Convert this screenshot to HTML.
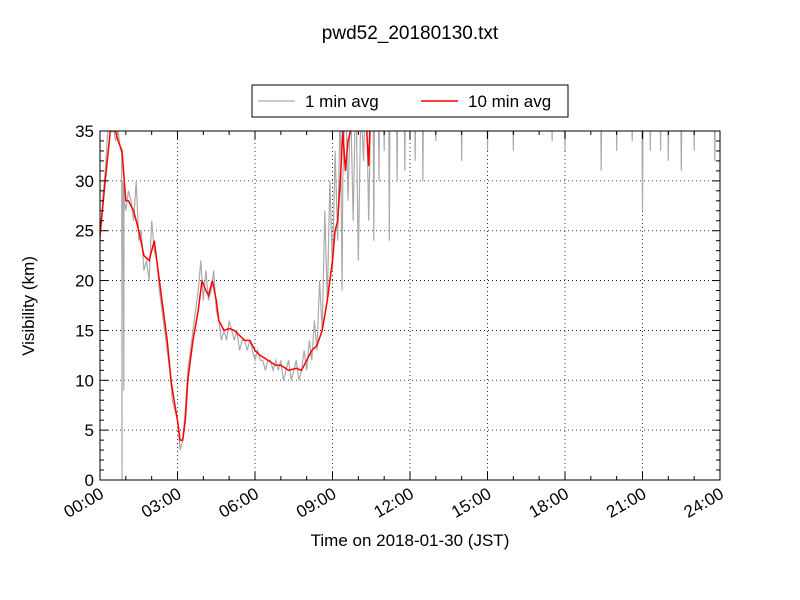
<!DOCTYPE html>
<html><head><meta charset="utf-8"><style>
body{margin:0;background:#fff;}
svg{display:block;font-family:"Liberation Sans","DejaVu Sans",sans-serif;}
</style></head><body>
<svg id="chart" width="800" height="600" viewBox="0 0 800 600">
<rect width="800" height="600" fill="#fff"/>
<text x="410" y="39" font-size="19" text-anchor="middle">pwd52_20180130.txt</text>
<defs><clipPath id="pc"><rect x="100" y="131" width="620" height="349"/></clipPath></defs>
<g id="grid"></g>
<g clip-path="url(#pc)">
<path id="gray" fill="none" stroke="#aaaaaa" stroke-width="1.2"/>
<path id="red" fill="none" stroke="#ff0000" stroke-width="1.5"/>
</g>
<rect x="100" y="131" width="620" height="349" fill="none" stroke="#000" stroke-width="1"/>
<g id="ticks"></g>
<text x="410" y="546" font-size="17" text-anchor="middle">Time on 2018-01-30 (JST)</text>
<text transform="translate(34,306) rotate(-90)" font-size="17" text-anchor="middle">Visibility (km)</text>
<g>
<rect x="252" y="85" width="316" height="32" fill="#fff" stroke="#000"/>
<line x1="258" y1="101" x2="295" y2="101" stroke="#aaaaaa" stroke-width="1.2"/>
<text x="305" y="107" font-size="17">1 min avg</text>
<line x1="421" y1="101" x2="458" y2="101" stroke="#ff0000" stroke-width="1.5"/>
<text x="468" y="107" font-size="17">10 min avg</text>
</g>
</svg>
<script>
const grayT=[0,0.1,0.2,0.3,0.4,0.5,0.6,0.7,0.8,0.84,0.85,0.86,0.9,0.92,0.93,0.94,1.0,1.1,1.2,1.3,1.4,1.5,1.6,1.7,1.8,1.9,2.0,2.1,2.2,2.3,2.4,2.5,2.6,2.7,2.8,2.9,3.0,3.1,3.2,3.3,3.4,3.5,3.6,3.7,3.8,3.9,4.0,4.1,4.2,4.3,4.4,4.5,4.6,4.7,4.8,4.9,5.0,5.1,5.2,5.3,5.4,5.5,5.6,5.7,5.8,5.9,6.0,6.1,6.2,6.3,6.4,6.5,6.6,6.7,6.8,6.9,7.0,7.1,7.2,7.3,7.4,7.5,7.6,7.7,7.8,7.9,8.0,8.1,8.2,8.3,8.4,8.5,8.6,8.7,8.8,8.9,9.0,9.1,9.2,9.3,9.37,9.4,9.5,9.6,9.7,9.8,9.9,10.0,10.1,10.2,10.3,10.4,10.5];
const grayV=[24,28,31,35,38,36,34,35,33,33,0,30,29,9,30,28,27,29,28,26,30,24,25,21,22,20,26,23,22,19,17,15,13,11,8,7,6,3,4,7,11,13,15,17,19,22,18,21,18,19,21,17,16,14,15,14,16,15,14,15,13,14,14,13,14,13,12,13,12,12,11,12,12,11,12,11,12,10,11,12,10,11,12,10,11,13,11,14,12,16,13,20,15,27,18,30,21,33,24,38,19,30,40,28,38,26,40,22,38,32,40,26,40];
const spikeT=[10.6,10.8,11.0,11.2,11.5,11.8,12.2,12.5,13.0,14.0,15.0,16.0,17.5,18.0,19.4,20.0,20.6,21.0,21.3,21.7,22.0,22.5,23.0,23.8];
const spikeV=[24,30,33,24,30,31,32,30,34,32,33,33,34,33,31,33,34,27,33,33,32,31,33,32];
const redT=[0,0.2,0.4,0.6,0.7,0.85,1.0,1.1,1.3,1.5,1.7,1.9,2.0,2.1,2.2,2.4,2.6,2.75,2.9,3.0,3.1,3.2,3.3,3.4,3.6,3.8,3.95,4.1,4.2,4.35,4.5,4.6,4.8,5.0,5.2,5.4,5.6,5.8,6.0,6.2,6.5,6.8,7.0,7.3,7.6,7.8,8.0,8.2,8.4,8.6,8.8,9.0,9.1,9.2,9.3,9.4,9.5,9.6,9.8,10.0,10.3,10.4,10.45,10.6,24];
const redV=[24.5,30,35,35,34,33,28,28,27,25,22.5,22,23,24,22,18,14,10,7.5,6,4,4,6,10,14,17,20,19,18.5,20,18,16,15,15.2,15,14.5,14,14,13,12.5,12,11.5,11.5,11,11.2,11,12,13,13.5,15,18,22,25,26,30,35,31,34,36,38,36,31.5,36,40,40];
const xTicks=["00:00","03:00","06:00","09:00","12:00","15:00","18:00","21:00","24:00"];
const yTicks=[0,5,10,15,20,25,30,35];
const X=h=>100+h*620/24, Y=v=>480-v*349/35;
const ns="http://www.w3.org/2000/svg";
function mk(tag,attrs,parent){const e=document.createElementNS(ns,tag);for(const k in attrs)e.setAttribute(k,attrs[k]);parent.appendChild(e);return e;}
// gray path
let d="";grayT.forEach((t,i)=>{d+=(i?"L":"M")+X(t).toFixed(1)+" "+Y(grayV[i]).toFixed(1);});
spikeT.forEach((t,i)=>{d+="L"+X(t-0.03).toFixed(1)+" "+Y(40)+"L"+X(t).toFixed(1)+" "+Y(spikeV[i]).toFixed(1)+"L"+X(t+0.03).toFixed(1)+" "+Y(40);});
document.getElementById("gray").setAttribute("d",d);
d="";redT.forEach((t,i)=>{d+=(i?"L":"M")+X(t).toFixed(1)+" "+Y(redV[i]).toFixed(1);});
document.getElementById("red").setAttribute("d",d);
const g=document.getElementById("grid"),tk=document.getElementById("ticks");
xTicks.forEach((lab,i)=>{const x=X(i*3);
 if(i>0&&i<xTicks.length-1){const l=mk("line",{x1:x,x2:x,y1:131,y2:480,stroke:"#000","stroke-width":0.8,"stroke-dasharray":"1,3"},g);
 
 }
 mk("line",{x1:x,x2:x,y1:480,y2:472,stroke:"#000"},tk);mk("line",{x1:x,x2:x,y1:131,y2:139,stroke:"#000"},tk);
 const t=mk("text",{x:x+5,y:497,"font-size":17,"text-anchor":"end",transform:`rotate(-30 ${x+5} 497)`},tk);t.textContent=lab;
 
 });
for(let h=0;h<=24;h++){if(h%3){const x=X(h);mk("line",{x1:x,x2:x,y1:480,y2:476,stroke:"#000"},tk);mk("line",{x1:x,x2:x,y1:131,y2:135,stroke:"#000"},tk);}}
yTicks.forEach(v=>{const y=Y(v);
 if(v>0&&v<35){const l=mk("line",{x1:100,x2:720,y1:y,y2:y,stroke:"#000","stroke-width":0.8,"stroke-dasharray":"1,3"},g);
 
 }
 mk("line",{x1:100,x2:108,y1:y,y2:y,stroke:"#000"},tk);mk("line",{x1:712,x2:720,y1:y,y2:y,stroke:"#000"},tk);
 const t=mk("text",{x:94,y:y+6,"font-size":17,"text-anchor":"end"},tk);t.textContent=v;
 
 });
for(let v=0;v<=35;v++){if(v%5){const y=Y(v);mk("line",{x1:100,x2:104,y1:y,y2:y,stroke:"#000"},tk);mk("line",{x1:716,x2:720,y1:y,y2:y,stroke:"#000"},tk);}}
</script>
</body></html>
